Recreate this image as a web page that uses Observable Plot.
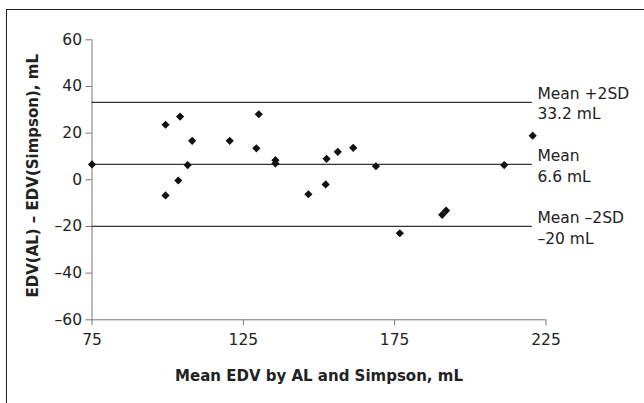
<!DOCTYPE html>
<html>
<head>
<meta charset="utf-8">
<script src="https://cdn.jsdelivr.net/npm/d3@7"></script>
<script src="https://cdn.jsdelivr.net/npm/@observablehq/plot@0.6"></script>
<style>
  html, body { margin: 0; padding: 0; background: #fff; }
  #wrap { position: relative; width: 644px; height: 403px; overflow: hidden; font-family: "DejaVu Sans", sans-serif; }
  #frame { position: absolute; left: 6px; top: 9px; width: 700px; height: 500px; border-top: 1.6px solid #222; border-left: 1.6px solid #222; }
  #chart { position: absolute; left: 0; top: 0; }
</style>
</head>
<body>
<div id="wrap"><div id="frame"></div><div id="chart"></div></div>
<script>
// Mean EDV (x) and difference AL − Simpson (y), mL
const meanEDV = [75, 99.3, 104.1, 108.1, 106.6, 103.5, 99.3, 120.5, 130.1, 129.3, 135.6, 135.6,
                 152.5, 152.2, 146.5, 156.2, 161.3, 168.8, 211.2, 220.6, 176.7, 190.7, 192.0];
const diffEDV = [6.6, 23.6, 27.1, 16.7, 6.3, -0.3, -6.7, 16.7, 28.1, 13.5, 8.4, 7.0,
                 9.0, -2.0, -6.2, 12.0, 13.7, 5.8, 6.3, 18.9, -22.9, -15.0, -13.2];

// Limits of agreement
const limitValues = [33.2, 6.6, -20];
const limitLabels = ["Mean +2SD\n33.2 mL", "Mean\n6.6 mL", "Mean \u20132SD\n\u201320 mL"];
const limitEnd = 220.5;

const xTicks = [75, 125, 175, 225];
const yTicks = [-60, -40, -20, 0, 20, 40, 60];
const xTitle = "Mean EDV by AL and Simpson, mL";
const yTitle = "EDV(AL) \u2013 EDV(Simpson), mL";

const points = meanEDV.map((x, i) => ({x, y: diffEDV[i]}));
const limits = limitValues.map((v, i) => ({y: v, label: limitLabels[i]}));

const fmt = d => d < 0 ? "\u2013" + (-d) : String(d);
const FS = 15.5;

const chart = Plot.plot({
  width: 644,
  height: 403,
  marginLeft: 91.5,
  marginRight: 98.5,
  marginTop: 39.3,
  marginBottom: 83.7,
  style: {fontFamily: "'DejaVu Sans', sans-serif", fontSize: FS + "px", background: "transparent", color: "#222"},
  x: {domain: [75, 225]},
  y: {domain: [-60, 60]},
  marks: [
    Plot.ruleY([-60], {stroke: "#777", strokeWidth: 1}),
    Plot.ruleX([75], {stroke: "#777", strokeWidth: 1}),
    Plot.axisX({ticks: xTicks, tickSize: 6, tickPadding: 8, tickFormat: fmt, stroke: "#777", fill: "#222", fontSize: FS, label: null}),
    Plot.axisY({ticks: yTicks, tickSize: 6, tickPadding: 4, tickFormat: fmt, stroke: "#777", fill: "#222", fontSize: FS, label: null}),
    Plot.ruleY(limits, {y: "y", x1: 75, x2: limitEnd, stroke: "#333", strokeWidth: 1.3}),
    Plot.text(limits, {x: limitEnd, y: "y", text: "label", textAnchor: "start", lineAnchor: "middle", lineHeight: 1.35, dx: 5, fontSize: FS, fill: "#222"}),
    Plot.dot(points, {x: "x", y: "y", symbol: "diamond2", r: 3.7, fill: "#111", stroke: "none"}),
    Plot.text([xTitle], {frameAnchor: "bottom", dy: 56, lineAnchor: "middle", fontWeight: "bold", fontSize: 15, fill: "#222"}),
    Plot.text([yTitle], {frameAnchor: "left", dx: -58.5, dy: -4, rotate: -90, textAnchor: "middle", lineAnchor: "middle", fontWeight: "bold", fontSize: 15, fill: "#222"})
  ]
});
document.getElementById("chart").appendChild(chart);
</script>
</body>
</html>
